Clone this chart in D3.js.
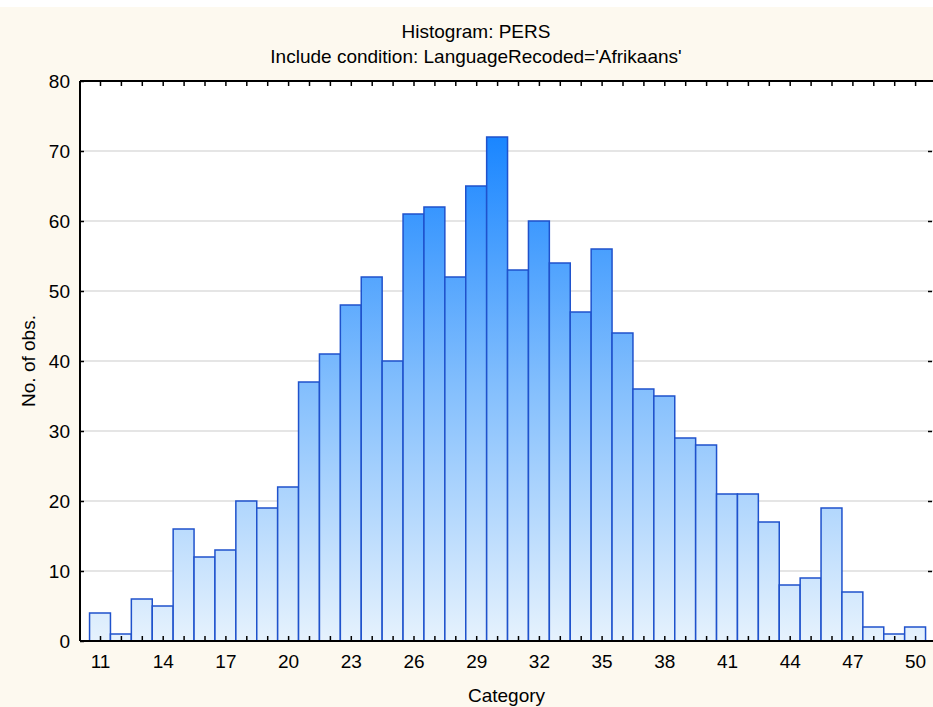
<!DOCTYPE html>
<html>
<head>
<meta charset="utf-8">
<script src="https://cdn.jsdelivr.net/npm/d3@7"></script>
<style>
  body { margin: 0; background: #ffffff; }
  svg text { font-family: "Liberation Sans", Arial, sans-serif; fill: #000; }
</style>
</head>
<body>
<div id="ui"></div>
<script>
// histogram counts per category (PERS, Afrikaans)
var categories = d3.range(11, 51);
var counts = [4, 1, 6, 5, 16, 12, 13, 20, 19, 22,
              37, 41, 48, 52, 40, 61, 62, 52, 65, 72,
              53, 60, 54, 47, 56, 44, 36, 35, 29, 28,
              21, 21, 17, 8, 9, 19, 7, 2, 1, 2];
var xLabels = [11, 14, 17, 20, 23, 26, 29, 32, 35, 38, 41, 44, 47, 50];
var yTicks = [0, 10, 20, 30, 40, 50, 60, 70, 80];
var titleLines = ["Histogram: PERS", "Include condition: LanguageRecoded='Afrikaans'"];

var w = 933, h = 707;
var padL = 80, padR = 933, padT = 81, padB = 641;   // plot box edges

var svg = d3.select("#ui").append("svg")
    .attr("width", w)
    .attr("height", h);

// page background (white strip on top, cream below)
svg.append("rect").attr("x", 0).attr("y", 7).attr("width", w).attr("height", h - 7)
   .attr("fill", "#fdf9ef");

// x: category centres, 11 -> 100px, 50 -> 915px
var x = d3.scaleLinear().domain([11, 50]).range([100, 915.1]);
var y = d3.scaleLinear().domain([0, 80]).range([padB, padT]);
var bw = x(1) - x(0);

svg.append("rect").attr("x", padL).attr("y", padT)
   .attr("width", padR - padL).attr("height", padB - padT)
   .attr("fill", "#ffffff");

// gridlines
svg.append("g").selectAll("line").data(yTicks.filter(d => d > 0 && d < 80)).enter()
   .append("line")
   .attr("x1", padL).attr("x2", padR)
   .attr("y1", d => y(d)).attr("y2", d => y(d))
   .attr("stroke", "#dcdcdc").attr("stroke-width", 1.5);

// vertical gradient over the whole plot height
var grad = svg.append("defs").append("linearGradient")
   .attr("id", "barFill")
   .attr("gradientUnits", "userSpaceOnUse")
   .attr("x1", 0).attr("x2", 0)
   .attr("y1", y(0)).attr("y2", y(72));
grad.append("stop").attr("offset", "0%").attr("stop-color", "#e6f2fd");
grad.append("stop").attr("offset", "50%").attr("stop-color", "#84bffd");
grad.append("stop").attr("offset", "100%").attr("stop-color", "#1a86ff");

svg.append("g").selectAll("rect").data(counts).enter()
   .append("rect")
   .attr("x", (d, i) => x(categories[i]) - bw / 2)
   .attr("y", d => y(d))
   .attr("width", bw)
   .attr("height", d => y(0) - y(d))
   .attr("fill", "url(#barFill)")
   .attr("stroke", "#1f52cc")
   .attr("stroke-width", 1.5);

// axes
var fs = "19px";

var xAxis = d3.axisBottom(x)
    .tickValues(categories)
    .tickSizeInner(-5).tickSizeOuter(0).tickPadding(14)
    .tickFormat(d => xLabels.indexOf(d) >= 0 ? d : "");
var gx = svg.append("g")
   .attr("transform", "translate(0," + padB + ")")
   .call(xAxis);
gx.select(".domain").remove();

var topAxis = d3.axisTop(x).tickValues(categories)
    .tickSizeInner(-5).tickSizeOuter(0).tickFormat("");
var gt = svg.append("g").attr("transform", "translate(0," + padT + ")").call(topAxis);
gt.select(".domain").remove();

var yAxis = d3.axisLeft(y).tickValues(yTicks)
    .tickSizeInner(-4).tickSizeOuter(0).tickPadding(10);
var gy = svg.append("g").attr("transform", "translate(" + padL + ",0)").call(yAxis);
gy.select(".domain").remove();

var rAxis = d3.axisRight(y).tickValues(yTicks.filter(d => d > 0 && d < 80))
    .tickSizeInner(-4).tickSizeOuter(0).tickFormat("");
var gr = svg.append("g").attr("transform", "translate(" + (padR - 1) + ",0)").call(rAxis);
gr.select(".domain").remove();

svg.selectAll(".tick line").attr("stroke", "#000").attr("stroke-width", 1.5);
svg.selectAll(".tick text").style("font-size", fs).attr("fill", "#000");

// frame lines
svg.append("line").attr("x1", padL).attr("x2", padR).attr("y1", padB).attr("y2", padB)
   .attr("stroke", "#000").attr("stroke-width", 2);
svg.append("line").attr("x1", padL).attr("x2", padR).attr("y1", padT).attr("y2", padT)
   .attr("stroke", "#000").attr("stroke-width", 2);
svg.append("line").attr("x1", padL).attr("x2", padL).attr("y1", padT).attr("y2", padB)
   .attr("stroke", "#000").attr("stroke-width", 2);

// titles
svg.append("g").selectAll("text").data(titleLines).enter()
   .append("text")
   .attr("x", 476)
   .attr("y", (d, i) => 38 + i * 25)
   .attr("text-anchor", "middle")
   .style("font-size", fs)
   .text(d => d);

svg.append("text")
   .attr("text-anchor", "middle")
   .attr("transform", "translate(35," + ((padT + padB) / 2) + ")rotate(-90)")
   .style("font-size", fs)
   .text("No. of obs.");

svg.append("text")
   .attr("text-anchor", "middle")
   .attr("x", (padL + padR) / 2)
   .attr("y", 702)
   .style("font-size", fs)
   .text("Category");
</script>
</body>
</html>
